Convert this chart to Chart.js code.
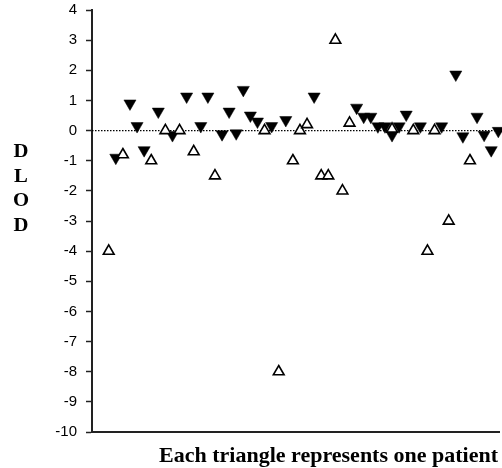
<!DOCTYPE html>
<html>
<head>
<meta charset="utf-8">
<script src="https://cdn.jsdelivr.net/npm/chart.js@4.4.1/dist/chart.umd.min.js"></script>
<style>
  html, body { margin: 0; padding: 0; background: #fff; }
  #wrap { position: relative; width: 502px; height: 468px; overflow: hidden; }
  #c { position: absolute; left: 0; top: 0; }
  .ylab { position: absolute; left: 11px; width: 20px; text-align: center;
          font: bold 18px "Liberation Serif", "Times New Roman", serif; color: #000; line-height: 18px;
          transform: scaleX(1.15); }
  #xtitle { position: absolute; right: 4px; top: 443px; white-space: nowrap;
            font: bold 22px "Liberation Serif", "Times New Roman", serif; color: #000; line-height: 24px; }
</style>
</head>
<body>
<div id="wrap">
  <canvas id="c" width="502" height="468"></canvas>
  <div class="ylab" style="top:142px">D</div>
  <div class="ylab" style="top:167px">L</div>
  <div class="ylab" style="top:191px">O</div>
  <div class="ylab" style="top:216px">D</div>
  <div id="xtitle">Each triangle represents one patient</div>
</div>
<script>
// Patient position (order along x) and ΔLOD values
const openPatients = [1, 3, 7, 9, 11, 13, 16, 23, 25, 27, 28, 29, 31, 32, 33, 34, 35, 41, 44, 46, 47, 49, 52];
const openDLOD     = [-4.0, -0.8, -1.0, 0, 0, -0.7, -1.5, 0, -8.0, -1.0, 0, 0.2, -1.5, -1.5, 3.0, -2.0, 0.25, 0.05, 0, -4.0, 0, -3.0, -1.0];

const filledPatients = [2, 4, 5, 6, 8, 10, 12, 14, 15, 17, 18, 19, 20, 21, 22, 24, 26, 30, 36, 37, 38, 39, 40, 41, 42, 43, 45, 48, 50, 51, 53, 54, 55, 56];
const filledDLOD     = [-0.90, 0.90, 0.15, -0.65, 0.63, -0.15, 1.13, 0.15, 1.13, -0.12, 0.63, -0.09, 1.35, 0.50, 0.30, 0.15, 0.35, 1.13, 0.76, 0.46, 0.46, 0.14, 0.14, -0.15, 0.14, 0.53, 0.14, 0.14, 1.86, -0.19, 0.46, -0.14, -0.65, -0.01];

const xRange = [-1.36, 56.1];
const zeroLine = [0, 0];
const yMin = -10, yMax = 4, yStep = 1;

const toPts = (xs, ys) => xs.map((x, i) => ({ x: x, y: ys[i] }));

new Chart(document.getElementById('c'), {
  type: 'scatter',
  data: {
    datasets: [
      {
        label: 'open',
        data: toPts(openPatients, openDLOD),
        pointStyle: 'triangle',
        pointRadius: 6.2,
        pointBorderWidth: 1.6,
        pointBackgroundColor: '#fff',
        pointBorderColor: '#000',
        clip: false
      },
      {
        label: 'filled',
        data: toPts(filledPatients, filledDLOD),
        pointStyle: 'triangle',
        pointRotation: 180,
        pointRadius: 7,
        pointBorderWidth: 0.5,
        pointBackgroundColor: '#000',
        pointBorderColor: '#000',
        clip: false
      },
      {
        label: 'zero',
        type: 'line',
        data: toPts(xRange, zeroLine),
        borderColor: '#000',
        borderWidth: 1.2,
        borderDash: [1.5, 1.5],
        pointRadius: 0,
        fill: false
      }
    ]
  },
  options: {
    responsive: false,
    animation: false,
    layout: { autoPadding: false, padding: { top: 10, right: 3, left: 0, bottom: 0 } },
    plugins: { legend: { display: false }, tooltip: { enabled: false } },
    scales: {
      x: {
        type: 'linear',
        min: xRange[0],
        max: xRange[1],
        grid: { display: false },
        border: { display: true, color: '#222', width: 2 },
        ticks: { display: false },
        afterFit: (s) => { s.height = 36; s.paddingLeft = 0; s.paddingRight = 0; }
      },
      y: {
        min: yMin,
        max: yMax,
        grid: { display: true, drawOnChartArea: false, drawTicks: true, tickLength: 6, tickColor: '#222', tickWidth: 1.5 },
        border: { display: true, color: '#222', width: 2 },
        ticks: {
          stepSize: yStep,
          color: '#000',
          padding: 9,
          font: { family: '"Liberation Sans", Arial, sans-serif', size: 15 }
        },
        afterFit: (s) => { s.width = 92; s.paddingTop = 0; s.paddingBottom = 0; }
      }
    }
  }
});
</script>
</body>
</html>
